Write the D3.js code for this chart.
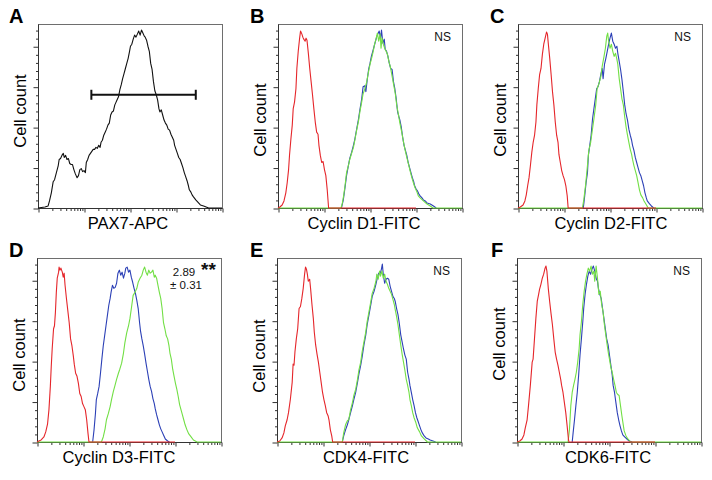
<!DOCTYPE html>
<html>
<head>
<meta charset="utf-8">
<script src="https://cdn.jsdelivr.net/npm/d3@7"></script>
<style>
  html, body { margin: 0; padding: 0; background: #fff; }
  svg { display: block; font-family: "Liberation Sans", Arial, Helvetica, sans-serif; }
</style>
</head>
<body>
<svg id="chart" width="712" height="480"></svg>
<script>
// ---------------- DATA ----------------
// x values: log10 fluorescence (decades 0..4); y values: cell count
const panelLetters = ["A", "B", "C", "D", "E", "F"];
const xTitles = ["PAX7-APC", "Cyclin D1-FITC", "Cyclin D2-FITC", "Cyclin D3-FITC", "CDK4-FITC", "CDK6-FITC"];
const yTitle = "Cell count";
const statLabels = ["", "NS", "NS", "2.89|± 0.31", "NS", "NS"];
const starLabels = ["", "", "", "**", "", ""];
const yMajorTicks = [0, 40, 80, 120, 160];
const xMajorTicks = [1, 10, 100, 1000, 10000];

const pax7 = [[0,0],[0.15,1],[0.22,2],[0.25,7],[0.29,15],[0.33,26],[0.36,28],[0.40,35],[0.44,42],[0.46,48],[0.49,49],[0.52,52],[0.55,54],[0.57,50],[0.60,52],[0.63,48],[0.66,49],[0.69,44],[0.72,43],[0.75,43],[0.78,38],[0.81,34],[0.85,30],[0.88,32],[0.91,38],[0.94,39],[0.97,36],[1.0,37],[1.03,35],[1.05,45],[1.08,48],[1.11,52],[1.14,54],[1.17,56],[1.2,58],[1.23,58],[1.26,60],[1.29,59],[1.32,62],[1.35,60],[1.37,65],[1.40,67],[1.43,72],[1.46,75],[1.49,78],[1.52,82],[1.55,84],[1.58,92],[1.61,95],[1.64,96],[1.67,102],[1.69,104],[1.72,107],[1.75,110],[1.78,117],[1.81,122],[1.84,128],[1.87,133],[1.90,138],[1.93,143],[1.96,148],[1.99,155],[2.01,160],[2.04,162],[2.07,167],[2.10,171],[2.13,169],[2.16,172],[2.19,175],[2.22,171],[2.25,176],[2.28,173],[2.31,170],[2.33,169],[2.36,166],[2.39,160],[2.42,155],[2.45,143],[2.48,137],[2.51,125],[2.54,116],[2.57,112],[2.60,107],[2.63,98],[2.65,95],[2.68,97],[2.71,92],[2.74,87],[2.77,84],[2.80,82],[2.83,78],[2.86,77],[2.89,73],[2.92,70],[2.95,67],[2.97,62],[3.00,58],[3.03,54],[3.06,50],[3.09,48],[3.12,44],[3.15,40],[3.18,35],[3.21,31],[3.24,27],[3.27,22],[3.29,18],[3.32,16],[3.35,13],[3.38,11],[3.43,8],[3.47,6],[3.53,3],[3.6,2],[3.71,0],[4,0]];
const pax7Gate = [1.16, 3.43, 112];

// Cyclin D1
const d1Red = [[0,0],[0.04,1],[0.09,3],[0.13,7],[0.17,15],[0.2,25],[0.23,38],[0.25,52],[0.28,68],[0.31,82],[0.33,98],[0.36,105],[0.39,118],[0.41,138],[0.44,155],[0.47,168],[0.49,175],[0.52,172],[0.54,169],[0.56,167],[0.59,165],[0.61,168],[0.63,166],[0.66,153],[0.69,138],[0.72,125],[0.75,112],[0.78,98],[0.81,85],[0.84,75],[0.87,73],[0.89,62],[0.92,52],[0.95,45],[0.98,46],[1.01,38],[1.04,32],[1.07,18],[1.10,0],[3.0,0]];
const d1Blue = [[1.38,0],[1.42,8],[1.45,18],[1.49,32],[1.53,42],[1.56,49],[1.6,55],[1.64,62],[1.67,68],[1.71,78],[1.75,88],[1.78,97],[1.82,108],[1.85,120],[1.89,121],[1.91,115],[1.94,127],[1.97,137],[2.0,143],[2.03,150],[2.06,155],[2.09,160],[2.12,165],[2.15,170],[2.17,172],[2.2,175],[2.23,168],[2.25,176],[2.28,163],[2.31,167],[2.33,157],[2.36,155],[2.39,150],[2.42,143],[2.45,138],[2.48,137],[2.51,125],[2.54,118],[2.57,108],[2.6,95],[2.63,90],[2.65,87],[2.68,80],[2.71,70],[2.74,62],[2.77,57],[2.8,52],[2.83,45],[2.86,40],[2.89,35],[2.92,30],[2.95,26],[2.97,22],[3.0,19],[3.03,17],[3.06,14],[3.09,12],[3.13,10],[3.16,8],[3.2,7],[3.24,5],[3.31,4],[3.38,2],[3.44,0]];
const d1Green = [[0,0],[1.37,0],[1.4,5],[1.43,13],[1.46,23],[1.49,35],[1.53,42],[1.56,48],[1.6,54],[1.64,60],[1.67,67],[1.71,77],[1.75,86],[1.78,95],[1.82,105],[1.85,113],[1.89,118],[1.93,125],[1.96,133],[2.0,142],[2.04,149],[2.07,155],[2.1,162],[2.13,167],[2.16,173],[2.19,165],[2.22,172],[2.24,158],[2.26,168],[2.29,162],[2.32,158],[2.35,155],[2.38,152],[2.41,145],[2.44,140],[2.47,133],[2.51,123],[2.55,113],[2.58,102],[2.62,92],[2.65,84],[2.69,75],[2.73,65],[2.76,58],[2.8,50],[2.84,43],[2.87,37],[2.91,30],[2.95,24],[2.98,20],[3.02,16],[3.05,12],[3.09,10],[3.16,7],[3.24,4],[3.31,2],[3.37,0],[4,0]];

// Cyclin D2
const d2Red = [[0,0],[0.05,1],[0.11,3],[0.15,7],[0.18,13],[0.21,22],[0.24,30],[0.27,42],[0.3,55],[0.33,65],[0.36,72],[0.39,85],[0.41,102],[0.44,118],[0.47,132],[0.5,138],[0.53,152],[0.56,162],[0.59,168],[0.62,174],[0.64,172],[0.66,162],[0.69,148],[0.72,132],[0.75,115],[0.78,102],[0.81,85],[0.84,72],[0.87,65],[0.89,53],[0.92,45],[0.95,37],[0.98,32],[1.01,28],[1.04,22],[1.07,12],[1.09,0],[3.0,0]];
const d2Blue = [[1.42,0],[1.45,12],[1.48,25],[1.51,35],[1.53,52],[1.56,62],[1.59,72],[1.62,88],[1.65,98],[1.68,108],[1.71,118],[1.74,120],[1.77,125],[1.8,132],[1.83,138],[1.85,128],[1.88,142],[1.91,148],[1.94,155],[1.97,162],[2.0,168],[2.03,173],[2.06,165],[2.09,162],[2.12,158],[2.15,160],[2.17,153],[2.2,145],[2.23,137],[2.26,127],[2.29,115],[2.32,102],[2.35,93],[2.38,87],[2.41,78],[2.44,72],[2.47,67],[2.49,62],[2.52,57],[2.55,50],[2.58,45],[2.61,40],[2.64,35],[2.67,32],[2.7,27],[2.73,22],[2.76,15],[2.79,10],[2.81,7],[2.86,4],[2.9,2],[2.95,0]];
const d2Green = [[0,0],[1.4,0],[1.43,8],[1.47,23],[1.51,42],[1.54,57],[1.58,65],[1.61,75],[1.65,88],[1.69,102],[1.72,118],[1.76,123],[1.8,130],[1.83,140],[1.87,150],[1.9,158],[1.93,170],[1.95,173],[1.97,165],[2.0,158],[2.03,162],[2.06,155],[2.09,150],[2.12,153],[2.15,147],[2.17,142],[2.2,128],[2.23,118],[2.26,108],[2.29,102],[2.32,90],[2.35,80],[2.38,72],[2.41,65],[2.44,58],[2.47,53],[2.49,48],[2.52,42],[2.55,37],[2.58,32],[2.61,25],[2.64,18],[2.67,13],[2.71,10],[2.74,7],[2.78,4],[2.83,0],[4,0]];

// Cyclin D3
const d3Red = [[0,0],[0.04,1],[0.09,2],[0.15,5],[0.19,10],[0.23,18],[0.26,32],[0.29,55],[0.31,75],[0.33,92],[0.36,112],[0.38,115],[0.4,128],[0.42,148],[0.44,162],[0.47,168],[0.48,173],[0.5,170],[0.52,172],[0.55,168],[0.57,163],[0.59,167],[0.61,155],[0.64,142],[0.67,130],[0.7,118],[0.73,102],[0.76,95],[0.79,85],[0.81,77],[0.84,68],[0.87,65],[0.9,58],[0.93,48],[0.96,45],[0.99,38],[1.02,35],[1.05,32],[1.08,22],[1.11,8],[1.13,0],[3.0,0]];
const d3Blue = [[1.21,0],[1.24,12],[1.27,28],[1.29,42],[1.32,48],[1.35,55],[1.38,68],[1.41,82],[1.44,95],[1.47,105],[1.5,115],[1.53,125],[1.56,135],[1.59,142],[1.61,148],[1.64,155],[1.67,152],[1.7,153],[1.73,157],[1.76,167],[1.79,170],[1.82,165],[1.85,168],[1.88,162],[1.91,167],[1.93,172],[1.96,173],[1.99,168],[2.02,170],[2.05,163],[2.08,158],[2.11,152],[2.14,147],[2.17,140],[2.2,132],[2.23,118],[2.25,110],[2.28,102],[2.31,95],[2.34,87],[2.37,78],[2.4,70],[2.43,62],[2.46,55],[2.49,50],[2.52,43],[2.55,38],[2.57,33],[2.6,27],[2.63,22],[2.66,17],[2.69,13],[2.72,10],[2.75,7],[2.79,3],[2.84,1],[2.88,0]];
const d3Green = [[0,0],[1.4,0],[1.44,5],[1.48,13],[1.51,22],[1.55,28],[1.59,35],[1.62,42],[1.66,50],[1.69,55],[1.73,62],[1.77,68],[1.8,72],[1.84,78],[1.88,88],[1.91,98],[1.95,108],[1.99,115],[2.02,122],[2.06,135],[2.09,145],[2.13,148],[2.17,152],[2.2,158],[2.24,162],[2.28,165],[2.31,170],[2.34,173],[2.37,168],[2.4,165],[2.43,170],[2.46,167],[2.49,168],[2.52,170],[2.55,163],[2.57,165],[2.6,162],[2.63,155],[2.66,148],[2.69,142],[2.72,132],[2.75,118],[2.78,112],[2.81,105],[2.84,102],[2.87,95],[2.89,88],[2.92,82],[2.95,72],[2.98,65],[3.01,58],[3.04,52],[3.07,45],[3.1,37],[3.13,32],[3.16,27],[3.19,22],[3.22,17],[3.26,12],[3.3,8],[3.35,5],[3.4,2],[3.48,0],[4,0]];

// CDK4
const cdk4Red = [[0,0],[0.06,1],[0.11,4],[0.15,9],[0.18,16],[0.22,22],[0.25,29],[0.29,42],[0.33,59],[0.35,77],[0.37,76],[0.39,89],[0.42,102],[0.45,112],[0.48,132],[0.51,134],[0.54,142],[0.57,152],[0.6,166],[0.62,173],[0.64,171],[0.66,166],[0.68,159],[0.71,161],[0.73,152],[0.76,136],[0.79,122],[0.81,109],[0.84,96],[0.87,87],[0.9,79],[0.93,69],[0.96,59],[0.99,49],[1.02,42],[1.05,36],[1.08,29],[1.11,26],[1.13,22],[1.16,12],[1.19,6],[1.21,0],[3.0,0]];
const cdk4Blue = [[1.42,0],[1.45,6],[1.49,12],[1.53,17],[1.56,22],[1.6,29],[1.64,36],[1.67,42],[1.71,49],[1.75,59],[1.78,67],[1.82,76],[1.85,84],[1.89,96],[1.93,106],[1.96,116],[2.0,126],[2.04,136],[2.07,144],[2.11,149],[2.15,156],[2.18,162],[2.21,167],[2.24,166],[2.27,171],[2.29,176],[2.31,166],[2.34,157],[2.37,161],[2.4,162],[2.43,161],[2.46,154],[2.49,149],[2.52,144],[2.55,142],[2.57,139],[2.6,132],[2.63,126],[2.66,117],[2.69,106],[2.72,99],[2.75,92],[2.78,86],[2.81,82],[2.84,69],[2.87,62],[2.89,56],[2.92,49],[2.95,42],[2.98,36],[3.01,29],[3.04,24],[3.07,20],[3.1,16],[3.13,12],[3.16,9],[3.2,6],[3.24,4],[3.29,3],[3.33,2],[3.39,1],[3.45,0]];
const cdk4Green = [[0,0],[1.42,0],[1.45,9],[1.49,17],[1.53,21],[1.56,22],[1.6,32],[1.64,39],[1.67,46],[1.71,52],[1.75,62],[1.78,71],[1.82,79],[1.85,89],[1.89,99],[1.93,109],[1.96,119],[2.0,129],[2.04,139],[2.07,147],[2.11,152],[2.15,159],[2.17,166],[2.2,161],[2.23,169],[2.25,164],[2.28,169],[2.31,162],[2.34,166],[2.37,159],[2.4,156],[2.43,152],[2.46,149],[2.49,146],[2.52,141],[2.55,136],[2.57,131],[2.6,124],[2.63,116],[2.66,106],[2.69,96],[2.72,87],[2.75,79],[2.78,71],[2.81,62],[2.84,56],[2.87,49],[2.89,42],[2.92,36],[2.95,29],[2.98,24],[3.02,19],[3.05,14],[3.1,10],[3.14,6],[3.2,3],[3.27,0],[4,0]];

// CDK6
const cdk6Red = [[0,0],[0.06,1],[0.11,3],[0.15,7],[0.18,14],[0.22,22],[0.25,36],[0.29,56],[0.33,79],[0.35,82],[0.38,102],[0.41,122],[0.44,139],[0.47,146],[0.49,151],[0.52,156],[0.55,162],[0.58,166],[0.61,172],[0.63,174],[0.65,169],[0.68,152],[0.71,139],[0.74,127],[0.77,116],[0.8,102],[0.83,89],[0.86,82],[0.89,76],[0.92,69],[0.95,62],[0.97,56],[1.0,49],[1.03,39],[1.06,29],[1.09,16],[1.12,2],[1.13,0],[3.0,0]];
const cdk6Blue = [[1.2,0],[1.22,9],[1.25,22],[1.28,36],[1.31,49],[1.34,66],[1.37,86],[1.4,102],[1.43,119],[1.45,132],[1.48,146],[1.51,156],[1.54,164],[1.57,169],[1.6,166],[1.63,171],[1.66,174],[1.69,169],[1.72,162],[1.75,159],[1.77,152],[1.8,146],[1.83,142],[1.86,132],[1.89,122],[1.92,112],[1.95,102],[1.98,96],[2.01,86],[2.04,76],[2.07,66],[2.09,56],[2.12,49],[2.15,39],[2.18,29],[2.21,22],[2.24,16],[2.27,11],[2.3,7],[2.34,5],[2.39,3],[2.44,1],[2.5,0]];
const cdk6Green = [[0,0],[1.11,0],[1.14,12],[1.17,36],[1.2,49],[1.23,56],[1.26,62],[1.29,69],[1.32,79],[1.35,92],[1.37,106],[1.4,119],[1.43,136],[1.46,149],[1.49,159],[1.52,166],[1.55,172],[1.58,169],[1.61,174],[1.64,166],[1.67,169],[1.69,159],[1.72,174],[1.75,162],[1.78,146],[1.81,149],[1.84,136],[1.87,129],[1.9,116],[1.93,106],[1.96,96],[1.99,87],[2.01,82],[2.04,74],[2.07,69],[2.1,62],[2.13,56],[2.16,49],[2.19,47],[2.22,46],[2.25,36],[2.28,26],[2.31,17],[2.33,11],[2.37,6],[2.41,3],[2.47,0],[4,0]];

const blackSeries = [pax7, null, null, null, null, null];
const redSeries   = [null, d1Red, d2Red, d3Red, cdk4Red, cdk6Red];
const blueSeries  = [null, d1Blue, d2Blue, d3Blue, cdk4Blue, cdk6Blue];
const greenSeries = [null, d1Green, d2Green, d3Green, cdk4Green, cdk6Green];

// ---------------- LAYOUT ----------------
const W = 184, H = 184;
const frames = [
  {x: 38, y: 24}, {x: 278, y: 24}, {x: 518, y: 24},
  {x: 37, y: 258}, {x: 277, y: 258}, {x: 517, y: 258}
];
const letterPos = [[9, 23], [250, 23], [490, 23], [9, 257], [250, 257], [491, 257]];
const xTitleCx = [128, 364, 611, 119, 366, 608];
const yTitleShift = [-5, 4, 4, 5, 6, -6];
const colors = {black: "#111", red: "#e5262b", blue: "#2c40b6", green: "#72df45"};

const svg = d3.select("#chart");

frames.forEach((f, i) => {
  const g = svg.append("g");
  const x = d3.scaleLog().domain([1, 1e4]).range([f.x, f.x + W]);
  const y = d3.scaleLinear().domain([0, 182]).range([f.y + H, f.y]);

  // frame
  g.append("rect").attr("x", f.x + 0.5).attr("y", f.y + 0.5)
    .attr("width", W).attr("height", H)
    .attr("fill", "none").attr("stroke", "#6e6e6e").attr("stroke-width", 1);

  // x axis ticks (log, outward)
  const allX = x.ticks();
  const minorX = allX.filter(v => !xMajorTicks.includes(v));
  const xAxisG = g.append("g").attr("transform", `translate(0.5,${f.y + H + 0.5})`);
  xAxisG.append("g").call(d3.axisBottom(x).tickValues(minorX).tickSize(2.5).tickFormat(""))
    .call(a => a.select(".domain").remove());
  xAxisG.append("g").call(d3.axisBottom(x).tickValues(xMajorTicks).tickSize(4).tickFormat(""))
    .call(a => a.select(".domain").remove());
  xAxisG.selectAll("line").attr("stroke", "#333");
  xAxisG.append("line").attr("x1", f.x).attr("x2", f.x + W).attr("y1", 0).attr("y2", 0)
    .attr("stroke", "#333");

  // y axis ticks (outward)
  const minorY = d3.range(0, 182, 8).filter(v => !yMajorTicks.includes(v));
  const yAxisG = g.append("g").attr("transform", `translate(${f.x + 0.5},0.5)`);
  yAxisG.append("g").call(d3.axisLeft(y).tickValues(minorY).tickSize(2.5).tickFormat(""))
    .call(a => a.select(".domain").remove());
  yAxisG.append("g").call(d3.axisLeft(y).tickValues(yMajorTicks).tickSize(5).tickFormat(""))
    .call(a => a.select(".domain").remove());
  yAxisG.selectAll("line").attr("stroke", "#333");
  yAxisG.append("line").attr("x1", 0).attr("x2", 0).attr("y1", f.y).attr("y2", f.y + H)
    .attr("stroke", "#333");

  const line = d3.line()
    .x(d => x(Math.pow(10, d[0])))
    .y(d => y(d[1]));

  const plotG = g.append("g");
  const drawCurve = (data, color) => {
    if (!data) return;
    plotG.append("path").datum(data).attr("d", line)
      .attr("fill", "none").attr("stroke", color)
      .attr("stroke-width", 1.1).attr("stroke-linejoin", "round");
  };
  drawCurve(blueSeries[i], colors.blue);
  drawCurve(greenSeries[i], colors.green);
  drawCurve(redSeries[i], colors.red);
  drawCurve(blackSeries[i], colors.black);

  // gate marker in panel A
  if (i === 0) {
    const gx1 = x(Math.pow(10, pax7Gate[0])), gx2 = x(Math.pow(10, pax7Gate[1])), gy = y(pax7Gate[2]);
    g.append("line").attr("x1", gx1).attr("x2", gx2).attr("y1", gy).attr("y2", gy)
      .attr("stroke", "#111").attr("stroke-width", 2.2);
    [gx1, gx2].forEach(gx => {
      g.append("line").attr("x1", gx).attr("x2", gx).attr("y1", gy - 5).attr("y2", gy + 5)
        .attr("stroke", "#111").attr("stroke-width", 2);
    });
  }

  // panel letter
  svg.append("text").attr("x", letterPos[i][0]).attr("y", letterPos[i][1])
    .attr("font-size", 20).attr("font-weight", "bold").attr("fill", "#000")
    .text(panelLetters[i]);

  // axis titles
  svg.append("text").attr("x", xTitleCx[i]).attr("y", f.y + H + 21)
    .attr("text-anchor", "middle").attr("font-size", 16.5).attr("fill", "#000")
    .text(xTitles[i]);
  svg.append("text")
    .attr("transform", `translate(${f.x - 12},${f.y + H / 2 + yTitleShift[i]}) rotate(-90)`)
    .attr("text-anchor", "middle").attr("font-size", 16.5).attr("fill", "#000")
    .text(yTitle);

  // statistics annotation
  const stat = statLabels[i];
  if (stat) {
    const parts = stat.split("|");
    if (parts.length === 1) {
      svg.append("text").attr("x", f.x + W - 11).attr("y", f.y + 17)
        .attr("text-anchor", "end").attr("font-size", 12).attr("fill", "#111")
        .text(parts[0]);
    } else {
      svg.append("text").attr("text-anchor", "middle")
        .attr("font-size", 11.5).attr("fill", "#111")
        .attr("x", f.x + 147).attr("y", f.y + 18).text(parts[0]);
      svg.append("text").attr("text-anchor", "middle")
        .attr("font-size", 11.5).attr("fill", "#111")
        .attr("x", f.x + 149).attr("y", f.y + 31).text(parts[1]);
    }
  }
  if (starLabels[i]) {
    svg.append("text").attr("x", f.x + 164).attr("y", f.y + 18)
      .attr("font-size", 19).attr("font-weight", "bold").attr("fill", "#111")
      .text(starLabels[i]);
  }
});
</script>
</body>
</html>
